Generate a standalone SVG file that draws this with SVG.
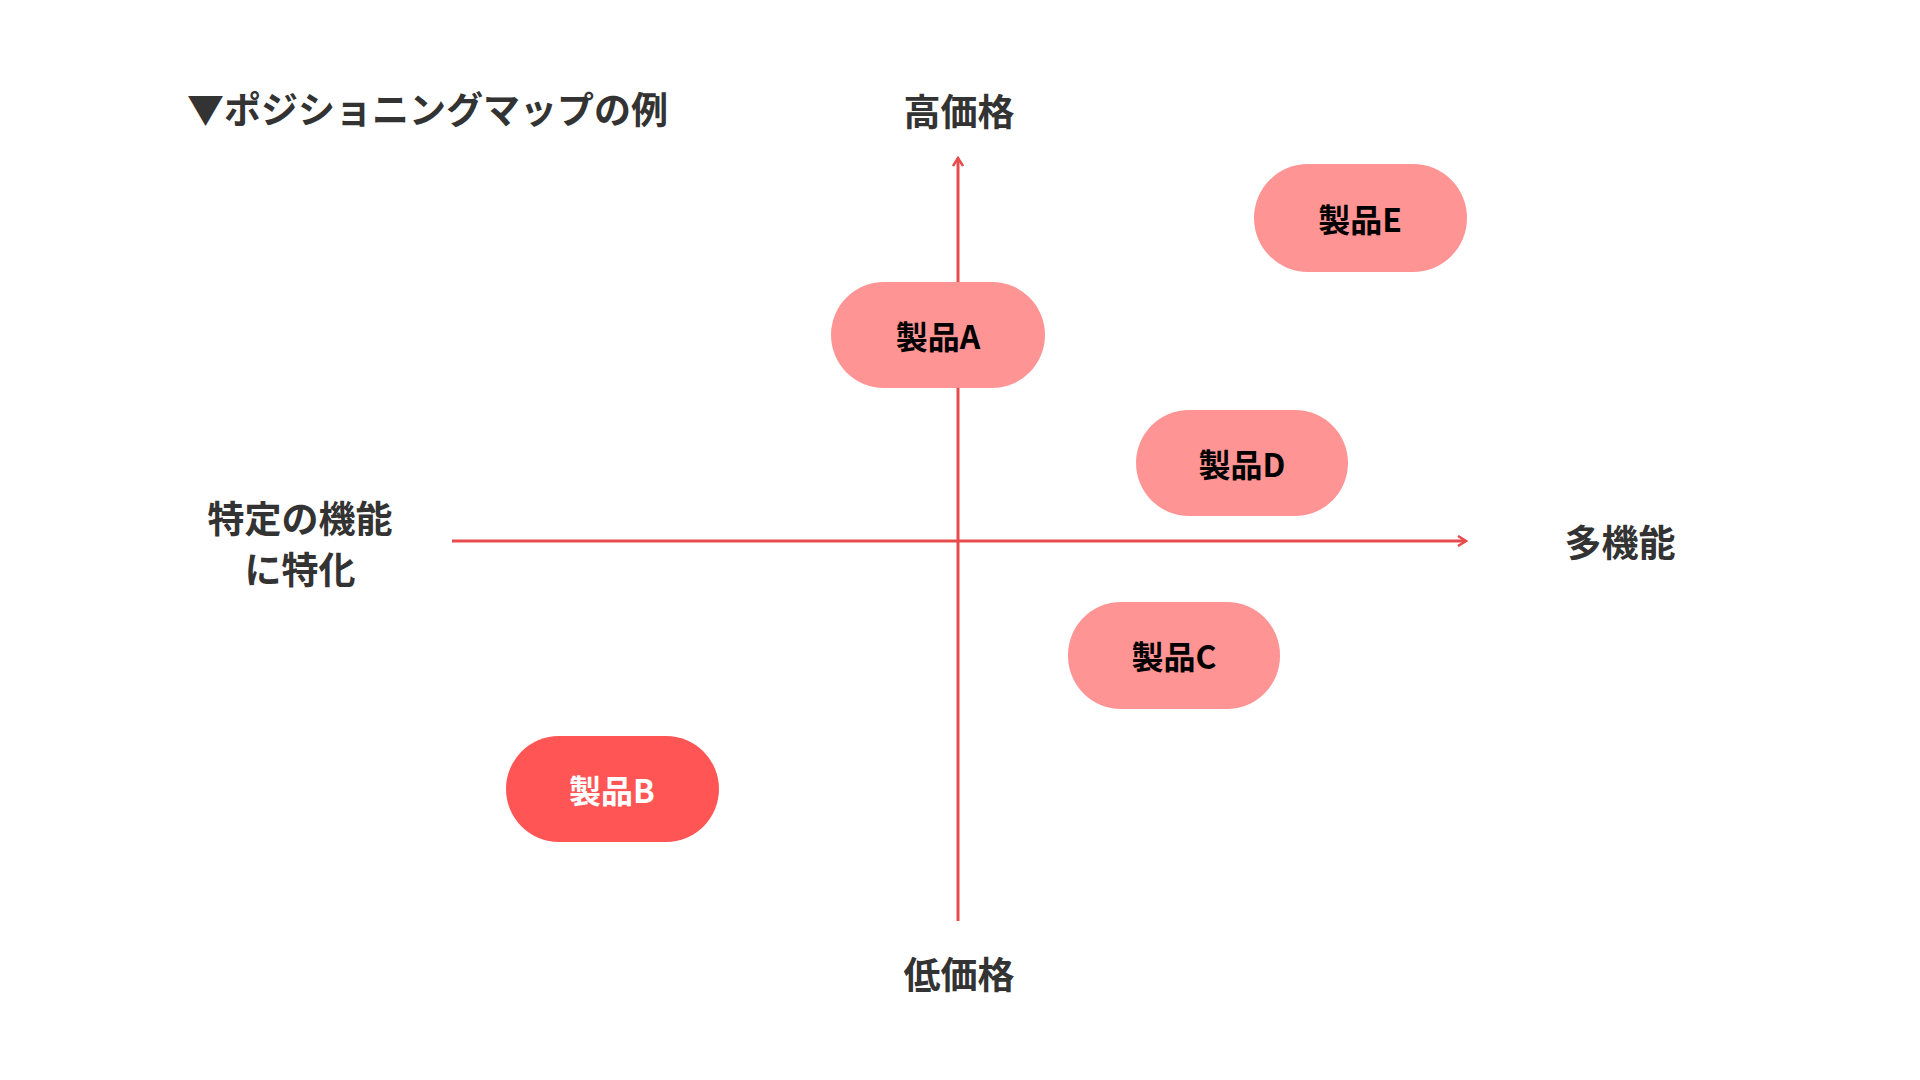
<svg xmlns="http://www.w3.org/2000/svg" width="1920" height="1080" viewBox="0 0 1920 1080">
<style>
text{font-family:"Noto Sans CJK JP","Noto Sans",sans-serif;font-weight:bold;text-anchor:middle;dominant-baseline:central}
.lab{font-size:37px;fill:#333}
.box{fill:#FF9494}
.bt{font-size:32px;fill:#000}
.ax{stroke:#E84B4B;stroke-width:3;fill:none}
</style>
<defs><marker id="ar" viewBox="0 0 12 12" refX="10" refY="6" markerWidth="12" markerHeight="12" markerUnits="userSpaceOnUse" orient="auto"><path d="M2,1 L10,6 L2,11" fill="none" stroke="#E84B4B" stroke-width="2.5"/></marker></defs>
<rect width="1920" height="1080" fill="#fff"/>
<text class="lab" x="187" y="108" style="text-anchor:start">▼ポジショニングマップの例</text>
<text class="lab" x="959" y="110">高価格</text>
<text class="lab" x="959" y="973">低価格</text>
<text class="lab" x="1620" y="541">多機能</text>
<text class="lab" x="300" y="517">特定の機能</text>
<text class="lab" x="300" y="568">に特化</text>
<g id="connectors">
<line class="ax" x1="958" y1="921" x2="958" y2="158" marker-end="url(#ar)"/>
<line class="ax" x1="452" y1="541" x2="1466" y2="541" marker-end="url(#ar)"/>
</g>
<g id="E"><rect class="box" x="1254" y="164" width="213" height="108" rx="54"/><text class="bt" x="1360" y="218">製品E</text></g>
<g id="A"><rect class="box" x="831" y="282" width="214" height="106" rx="53"/><text class="bt" x="938" y="335">製品A</text></g>
<g id="D"><rect class="box" x="1136" y="410" width="212" height="106" rx="53"/><text class="bt" x="1242" y="463">製品D</text></g>
<g id="C"><rect class="box" x="1068" y="602" width="212" height="107" rx="53"/><text class="bt" x="1174" y="655">製品C</text></g>
<g id="B"><rect x="506" y="736" width="213" height="106" rx="53" fill="#FF5555"/><text class="bt" x="612" y="789" fill="#fff" style="fill:#fff">製品B</text></g>
</svg>
